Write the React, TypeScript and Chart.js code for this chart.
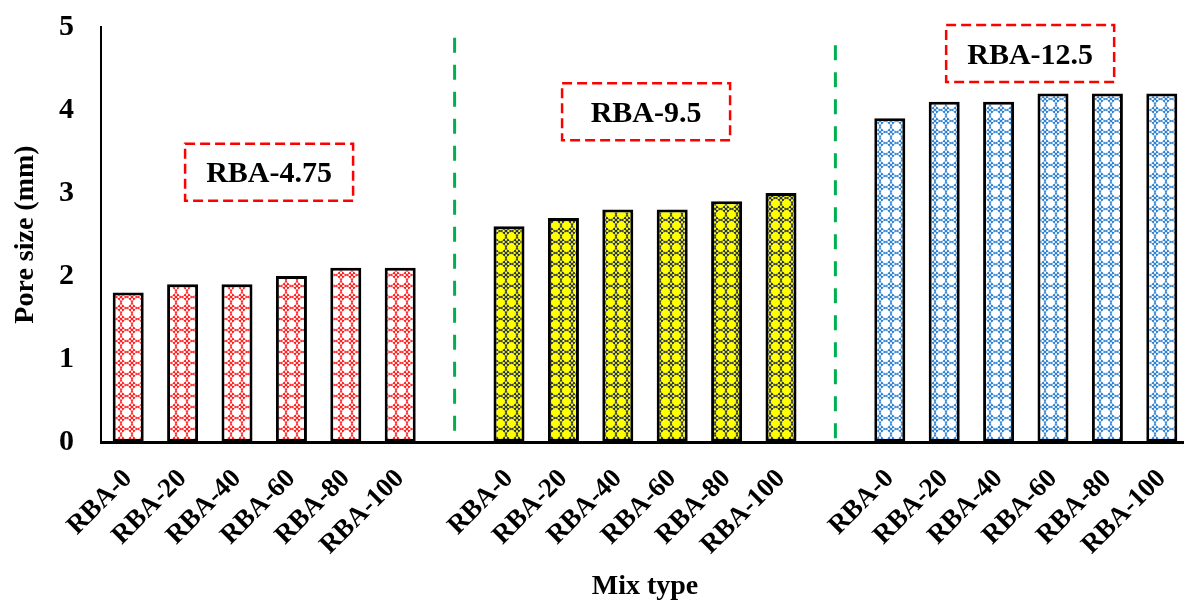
import React, { useEffect, useRef } from 'react';
import { Chart, registerables } from 'chart.js';

Chart.register(...registerables);

// ---------- data ----------
const mixLabels = ['RBA-0', 'RBA-20', 'RBA-40', 'RBA-60', 'RBA-80', 'RBA-100'];
const rba475 = [1.8, 1.9, 1.9, 2.0, 2.1, 2.1];
const rba95 = [2.6, 2.7, 2.8, 2.8, 2.9, 3.0];
const rba125 = [3.9, 4.1, 4.1, 4.2, 4.2, 4.2];
const groupNames = ['RBA-4.75', 'RBA-9.5', 'RBA-12.5'];
const yMin = 0;
const yMax = 5;
const yStep = 1;

// annotation anchors (category index / value units)
const separatorAt = [6, 13];
const separatorTop = [4.87, 4.78];
const separatorBottom = [0.08, 0.03];
const boxCenterX = [2.59, 9.52, 16.58];
const boxCenterY = [3.25, 3.98, 4.68];

const FONT = '"Liberation Serif", "Times New Roman", serif';

const gap = [''];
const categories = [...mixLabels, ...gap, ...mixLabels, ...gap, ...mixLabels];
const nulls = (n: number) => Array(n).fill(null);
const data475 = [...rba475, ...nulls(14)];
const data95 = [...nulls(7), ...rba95, ...nulls(7)];
const data125 = [...nulls(14), ...rba125];

function makePattern(bg: string, fg: string): CanvasPattern | string {
  const s = 11;
  const c = document.createElement('canvas');
  c.width = s;
  c.height = s;
  const g = c.getContext('2d');
  if (!g) return bg;
  g.fillStyle = bg;
  g.fillRect(0, 0, s, s);
  g.strokeStyle = fg;
  g.lineWidth = 1;
  g.beginPath();
  g.arc(s / 2, s / 2, s * 0.46, 0, Math.PI * 2);
  g.stroke();
  const d = s * 0.24;
  g.lineWidth = 1.2;
  g.beginPath();
  for (const [cx, cy] of [[0, 0], [s, 0], [0, s], [s, s]]) {
    g.moveTo(cx - d, cy - d);
    g.lineTo(cx + d, cy + d);
    g.moveTo(cx + d, cy - d);
    g.lineTo(cx - d, cy + d);
  }
  g.stroke();
  const p = g.createPattern(c, 'repeat');
  return p || bg;
}

const annotationPlugin = {
  id: 'groupAnnotations',
  afterDatasetsDraw(chart: any) {
    const ctx = chart.ctx as CanvasRenderingContext2D;
    const xs = chart.scales.x;
    const ys = chart.scales.y;
    ctx.save();
    // green separators
    ctx.strokeStyle = '#00B050';
    ctx.lineWidth = 3;
    ctx.setLineDash([15, 12]);
    separatorAt.forEach((idx, i) => {
      const x = xs.getPixelForValue(idx);
      ctx.beginPath();
      ctx.moveTo(x, ys.getPixelForValue(separatorTop[i]));
      ctx.lineTo(x, ys.getPixelForValue(separatorBottom[i]));
      ctx.stroke();
    });
    // red dashed boxes
    const w = 168;
    const h = 57;
    groupNames.forEach((name, i) => {
      const cx = xs.getPixelForValue(boxCenterX[i]);
      const cy = ys.getPixelForValue(boxCenterY[i]);
      ctx.strokeStyle = '#FF0000';
      ctx.lineWidth = 2.5;
      ctx.setLineDash([10, 5]);
      ctx.strokeRect(cx - w / 2, cy - h / 2, w, h);
      ctx.setLineDash([]);
      ctx.fillStyle = '#000';
      ctx.font = `bold 30px ${FONT}`;
      ctx.textAlign = 'center';
      ctx.textBaseline = 'alphabetic';
      ctx.fillText(name, cx, cy + 10);
    });
    ctx.restore();
  },
};

export default function App() {
  const ref = useRef<HTMLCanvasElement | null>(null);

  useEffect(() => {
    if (!ref.current) return;
    const redPat = makePattern('#FFFFFF', '#FF1A1A');
    const yelPat = makePattern('#FFFF00', '#1F2A60');
    const bluPat = makePattern('#FFFFFF', '#2A7FD0');

    const common = {
      borderColor: '#000000',
      borderWidth: 3,
      borderSkipped: false,
      grouped: false,
      barPercentage: 0.57,
      categoryPercentage: 1.0,
    };

    const chart = new Chart(ref.current, {
      type: 'bar',
      data: {
        labels: categories,
        datasets: [
          { label: groupNames[0], data: data475, backgroundColor: redPat, ...common },
          { label: groupNames[1], data: data95, backgroundColor: yelPat, ...common },
          { label: groupNames[2], data: data125, backgroundColor: bluPat, ...common },
        ] as any,
      },
      options: {
        animation: false,
        responsive: false,
        devicePixelRatio: 1,
        layout: { padding: { top: 27, right: 11, bottom: 0, left: 0 } },
        plugins: {
          legend: { display: false },
          tooltip: { enabled: false },
        },
        scales: {
          x: {
            type: 'category',
            grid: { display: false, drawTicks: false },
            border: { display: true, color: '#000', width: 3 },
            ticks: {
              autoSkip: false,
              minRotation: 45,
              maxRotation: 45,
              color: '#000',
              padding: 21,
              font: { family: FONT, size: 27, weight: 'bold' },
            },
            title: {
              display: true,
              text: 'Mix type',
              color: '#000',
              font: { family: FONT, size: 28, weight: 'bold', lineHeight: 1 },
              padding: { top: 0, bottom: 0 },
            },
            afterFit: (s: any) => {
              s.height = 159;
              s.paddingLeft = 0;
              s.paddingRight = 0;
            },
          },
          y: {
            min: yMin,
            max: yMax,
            grid: { display: false, drawTicks: false },
            border: { display: true, color: '#000', width: 2 },
            ticks: {
              stepSize: yStep,
              color: '#000',
              padding: 27,
              font: { family: FONT, size: 30, weight: 'bold' },
            },
            title: {
              display: true,
              text: 'Pore size (mm)',
              color: '#000',
              font: { family: FONT, size: 28, weight: 'bold' },
              padding: { top: 9, bottom: 0 },
            },
            afterFit: (s: any) => {
              s.width = 101;
              s.paddingTop = 0;
              s.paddingBottom = 0;
            },
          },
        },
      } as any,
      plugins: [annotationPlugin],
    });
    return () => chart.destroy();
  }, []);

  return (
    <div
      style={{
        position: 'fixed',
        left: 0,
        top: 0,
        width: 1184,
        height: 601,
        overflow: 'hidden',
        background: '#fff',
      }}
    >
      <canvas ref={ref} width={1200} height={601} style={{ width: 1200, height: 601, display: 'block' }} />
    </div>
  );
}
